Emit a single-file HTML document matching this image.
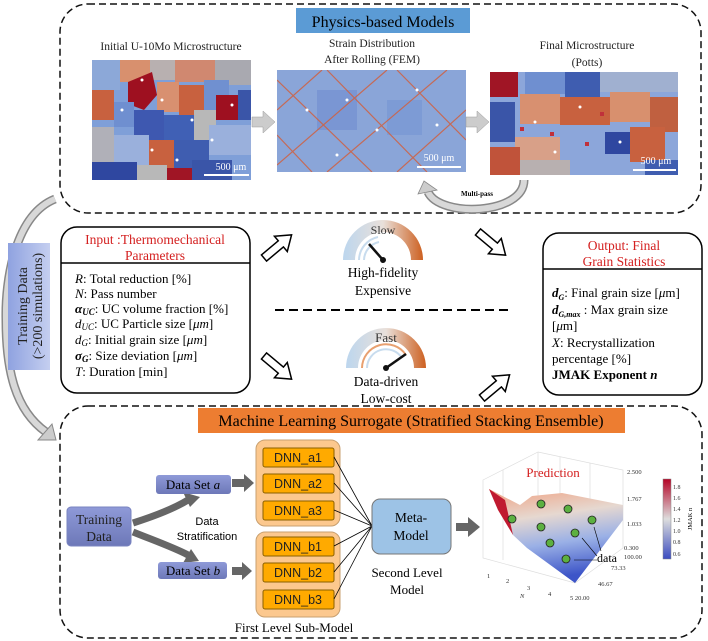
<!DOCTYPE html>
<html><head><meta charset="utf-8"><style>
body{margin:0;background:#fff}
svg{display:block;font-family:"Liberation Serif",serif}
.s{font-family:"Liberation Sans",sans-serif}
</style></head><body>
<svg width="708" height="641" viewBox="0 0 708 641" xmlns="http://www.w3.org/2000/svg">
<defs>
<linearGradient id="td" x1="0" y1="0" x2="1" y2="0"><stop offset="0" stop-color="#8fa2e0"/><stop offset="1" stop-color="#c5cff0"/></linearGradient>
<linearGradient id="g1" x1="0" x2="1"><stop offset="0" stop-color="#bcd6ee"/><stop offset="0.5" stop-color="#e9e0da"/><stop offset="1" stop-color="#cd6020"/></linearGradient>
<linearGradient id="cb" x1="0" y1="0" x2="0" y2="1"><stop offset="0" stop-color="#b40426"/><stop offset="0.5" stop-color="#dddddd"/><stop offset="1" stop-color="#3b4cc0"/></linearGradient>
<linearGradient id="surf" x1="0" y1="0" x2="0.2" y2="1"><stop offset="0" stop-color="#f0a080"/><stop offset="0.35" stop-color="#e6d8d0"/><stop offset="0.65" stop-color="#9ab0e6"/><stop offset="1" stop-color="#3d55c8"/></linearGradient>
<linearGradient id="dsb" x1="0" y1="0" x2="0" y2="1"><stop offset="0" stop-color="#8f9ad8"/><stop offset="1" stop-color="#6d78b8"/></linearGradient>
</defs>

<rect x="60" y="4" width="641" height="209" rx="28" fill="none" stroke="#111" stroke-width="1.5" stroke-dasharray="7,4"/>
<rect x="296" y="8" width="174" height="25" fill="#5b9bd5"/>
<text x="383" y="27" font-size="16" text-anchor="middle">Physics-based Models</text>
<text x="171" y="50" font-size="11.5" text-anchor="middle" fill="#222">Initial U-10Mo Microstructure</text>
<text x="372" y="47" font-size="11.5" text-anchor="middle" fill="#222">Strain Distribution</text>
<text x="372" y="63" font-size="11.5" text-anchor="middle" fill="#222">After Rolling (FEM)</text>
<text x="587" y="49" font-size="11.5" text-anchor="middle" fill="#222">Final Microstructure</text>
<text x="587" y="66" font-size="11.5" text-anchor="middle" fill="#222">(Potts)</text>

<svg x="92" y="60" width="159" height="120" viewBox="0 0 159 120">
<rect width="159" height="120" fill="#7f9fd8"/>
<rect x="0" y="0" width="28" height="30" fill="#8ca8d8"/>
<rect x="28" y="0" width="30" height="22" fill="#d8906e"/>
<rect x="58" y="0" width="25" height="20" fill="#b8b0b0"/>
<rect x="83" y="0" width="40" height="22" fill="#d08870"/>
<rect x="123" y="0" width="36" height="25" fill="#a9a9b0"/>
<polygon points="36,22 60,12 65,35 52,50 36,44" fill="#9e1020"/>
<rect x="65" y="22" width="22" height="30" fill="#d89070"/>
<rect x="87" y="25" width="25" height="30" fill="#c8613f"/>
<rect x="112" y="20" width="25" height="30" fill="#7090d0"/>
<rect x="0" y="30" width="22" height="30" fill="#c8613f"/>
<rect x="22" y="42" width="20" height="25" fill="#6f8fd0"/>
<rect x="42" y="50" width="30" height="30" fill="#3e58b0"/>
<rect x="72" y="55" width="30" height="25" fill="#4060b5"/>
<rect x="102" y="50" width="22" height="30" fill="#b8b8b8"/>
<rect x="124" y="35" width="22" height="25" fill="#9e1020"/>
<rect x="146" y="30" width="13" height="30" fill="#3a55a8"/>
<rect x="0" y="67" width="22" height="35" fill="#b0b0b8"/>
<rect x="22" y="75" width="35" height="30" fill="#9ab0dc"/>
<rect x="57" y="80" width="25" height="30" fill="#c8613f"/>
<rect x="82" y="80" width="35" height="30" fill="#3f5db0"/>
<rect x="117" y="65" width="42" height="30" fill="#9ab0dc"/>
<rect x="0" y="102" width="45" height="18" fill="#2f47a0"/>
<rect x="45" y="105" width="30" height="15" fill="#b8b8b8"/>
<rect x="75" y="108" width="25" height="12" fill="#a01525"/>
<rect x="100" y="100" width="40" height="20" fill="#3a55a8"/>
<g fill="#fff"><circle cx="50" cy="20" r="1.5"/><circle cx="70" cy="40" r="1.5"/><circle cx="30" cy="50" r="1.5"/><circle cx="100" cy="60" r="1.5"/><circle cx="120" cy="80" r="1.5"/><circle cx="60" cy="90" r="1.5"/><circle cx="85" cy="100" r="1.5"/><circle cx="140" cy="45" r="1.5"/></g>
<text x="139" y="110" font-size="10" fill="#fff" text-anchor="middle">500 μm</text>
<line x1="112" y1="115" x2="157" y2="115" stroke="#fff" stroke-width="2"/>
</svg>
<polygon points="252,117 263,117 263,111 275,122 263,133 263,127 252,127" fill="#ccc" stroke="#999" stroke-width="0.5"/>

<svg x="277" y="70" width="189" height="102" viewBox="0 0 189 102">
<rect width="189" height="102" fill="#8aa5d8"/>
<rect x="40" y="20" width="40" height="40" fill="#6f8cd0" opacity="0.6"/>
<rect x="110" y="30" width="35" height="35" fill="#7594d4" opacity="0.6"/>
<g stroke="#d06040" stroke-width="1.2" opacity="0.85">
<line x1="0" y1="40" x2="45" y2="0"/><line x1="0" y1="95" x2="110" y2="0"/>
<line x1="50" y1="102" x2="170" y2="0"/><line x1="120" y1="102" x2="189" y2="40"/>
<line x1="0" y1="10" x2="95" y2="102"/><line x1="50" y1="0" x2="150" y2="102"/>
<line x1="120" y1="0" x2="189" y2="70"/><line x1="0" y1="65" x2="35" y2="102"/>
</g>
<g fill="#fff"><circle cx="30" cy="40" r="1.5"/><circle cx="70" cy="30" r="1.5"/><circle cx="100" cy="60" r="1.5"/><circle cx="140" cy="20" r="1.5"/><circle cx="160" cy="55" r="1.5"/><circle cx="60" cy="85" r="1.5"/></g>
<text x="162" y="91" font-size="10" fill="#fff" text-anchor="middle">500 μm</text>
<line x1="140" y1="97" x2="184" y2="97" stroke="#fff" stroke-width="2"/>
</svg>
<polygon points="466,117 477,117 477,111 489,122 477,133 477,127 466,127" fill="#ccc" stroke="#999" stroke-width="0.5"/>

<svg x="490" y="72" width="188" height="103" viewBox="0 0 188 103">
<rect width="188" height="103" fill="#8ca6da"/>
<rect x="0" y="0" width="28" height="25" fill="#a01525"/>
<rect x="35" y="0" width="40" height="22" fill="#6f8fd0"/>
<rect x="75" y="0" width="35" height="25" fill="#3f5db0"/>
<rect x="110" y="0" width="78" height="20" fill="#a0b0d0"/>
<rect x="30" y="22" width="40" height="30" fill="#d89070"/>
<rect x="70" y="25" width="50" height="28" fill="#c8613f"/>
<rect x="120" y="20" width="40" height="30" fill="#d8906e"/>
<rect x="160" y="25" width="28" height="35" fill="#c06040"/>
<rect x="0" y="30" width="25" height="40" fill="#3a55a8"/>
<rect x="25" y="65" width="45" height="25" fill="#d8a088"/>
<rect x="115" y="60" width="25" height="22" fill="#2f47a0"/>
<rect x="140" y="55" width="35" height="35" fill="#c8613f"/>
<rect x="0" y="75" width="30" height="28" fill="#c0533a"/>
<rect x="30" y="88" width="50" height="15" fill="#b8b0b0"/>
<rect x="155" y="88" width="33" height="15" fill="#3f5db0"/>
<g fill="#c0303a"><rect x="30" y="55" width="4" height="4"/><rect x="60" y="60" width="4" height="4"/><rect x="95" y="70" width="4" height="4"/><rect x="110" y="40" width="4" height="4"/></g>
<g fill="#fff"><circle cx="45" cy="50" r="1.5"/><circle cx="90" cy="35" r="1.5"/><circle cx="130" cy="70" r="1.5"/><circle cx="65" cy="80" r="1.5"/></g>
<text x="166" y="92" font-size="10" fill="#fff" text-anchor="middle">500 μm</text>
<line x1="143" y1="98" x2="186" y2="98" stroke="#fff" stroke-width="2"/>
</svg>
<path d="M524,180 C524,215 440,218 428,192" fill="none" stroke="#888" stroke-width="9"/>
<path d="M524,180 C524,215 440,218 428,192" fill="none" stroke="#d8d8d8" stroke-width="6"/>
<polygon points="418,194 424,181 437,190" fill="#ccc" stroke="#888" stroke-width="0.8"/>
<text x="477" y="196" font-size="7" font-weight="bold" text-anchor="middle">Multi-pass</text>

<path d="M55,199 C15,215 5,280 6,320 C6,370 15,410 46,432" fill="none" stroke="#888" stroke-width="9"/>
<path d="M55,199 C15,215 5,280 6,320 C6,370 15,410 46,432" fill="none" stroke="#d8d8d8" stroke-width="6"/>
<polygon points="38,440 56,440 52,424" fill="#ccc" stroke="#888"/>
<rect x="8" y="243" width="42" height="127" fill="url(#td)"/>
<text transform="translate(27,306) rotate(-90)" font-size="14" text-anchor="middle" fill="#222">Training Data</text>
<text transform="translate(42,306) rotate(-90)" font-size="14" text-anchor="middle" fill="#222">(&gt;200 simulations)</text>

<rect x="61" y="227" width="189" height="166" rx="16" fill="#fff" stroke="#000" stroke-width="1.5"/>
<line x1="61" y1="263" x2="250" y2="263" stroke="#000" stroke-width="1.5"/>
<text x="155" y="244" font-size="13.5" text-anchor="middle" fill="#d42020">Input :Thermomechanical</text>
<text x="155" y="260" font-size="13.5" text-anchor="middle" fill="#d42020">Parameters</text>
<g font-size="13">
<text x="75" y="283"><tspan font-style="italic">R</tspan>: Total reduction [%]</text>
<text x="75" y="298"><tspan font-style="italic">N</tspan>: Pass number</text>
<text x="75" y="313"><tspan font-weight="bold" font-style="italic">α<tspan font-size="9" dy="2">UC</tspan></tspan><tspan dy="-2">: UC volume fraction [%]</tspan></text>
<text x="75" y="328"><tspan font-style="italic">d<tspan font-size="9" dy="2">UC</tspan></tspan><tspan dy="-2">: UC Particle size [</tspan><tspan font-style="italic">μm</tspan>]</text>
<text x="75" y="344"><tspan font-style="italic">d<tspan font-size="9" dy="2">G</tspan></tspan><tspan dy="-2">: Initial grain size [</tspan><tspan font-style="italic">μm</tspan>]</text>
<text x="75" y="360"><tspan font-weight="bold" font-style="italic">σ<tspan font-size="9" dy="2">G</tspan></tspan><tspan dy="-2">: Size deviation [</tspan><tspan font-style="italic">μm</tspan>]</text>
<text x="75" y="376"><tspan font-style="italic">T</tspan>: Duration [min]</text>
</g>

<rect x="543" y="233" width="159" height="162" rx="16" fill="#fff" stroke="#000" stroke-width="1.5"/>
<line x1="543" y1="269" x2="702" y2="269" stroke="#000" stroke-width="1.5"/>
<text x="624" y="250" font-size="13.5" text-anchor="middle" fill="#d42020">Output: Final</text>
<text x="624" y="266" font-size="13.5" text-anchor="middle" fill="#d42020">Grain Statistics</text>
<g font-size="13">
<text x="552" y="297"><tspan font-weight="bold" font-style="italic">d<tspan font-size="8" dy="3">G</tspan></tspan><tspan dy="-3">: Final grain size [</tspan><tspan font-style="italic">μ</tspan>m]</text>
<text x="552" y="314"><tspan font-weight="bold" font-style="italic">d<tspan font-size="8" dy="3">G,max</tspan></tspan><tspan dy="-3"> : Max grain size</tspan></text>
<text x="552" y="330">[<tspan font-style="italic">μ</tspan>m]</text>
<text x="552" y="347"><tspan font-style="italic">X</tspan>: Recrystallization</text>
<text x="552" y="363">percentage  [%]</text>
<text x="552" y="379" font-weight="bold">JMAK Exponent <tspan font-style="italic">n</tspan></text>
</g>

<g fill="#fff" stroke="#000" stroke-width="1.5">
<polygon points="0,-4 22,-4 22,-10 36,0 22,10 22,4 0,4" transform="translate(264,258) rotate(-40)"/>
<polygon points="0,-4 22,-4 22,-10 36,0 22,10 22,4 0,4" transform="translate(478,232) rotate(40)"/>
<polygon points="0,-4 22,-4 22,-10 36,0 22,10 22,4 0,4" transform="translate(264,356) rotate(40)"/>
<polygon points="0,-4 22,-4 22,-10 36,0 22,10 22,4 0,4" transform="translate(482,398) rotate(-40)"/>
</g>

<g transform="translate(383,260)">
<path d="M-40,0 A40,40 0 0 1 40,0 L28,0 A28,28 0 0 0 -28,0 Z" fill="url(#g1)"/>
<path d="M-24,0 A24,24 0 0 1 -5,-23" fill="none" stroke="#c8dcee" stroke-width="2"/>
<path d="M-19,0 A19,19 0 0 1 -4,-18" fill="none" stroke="#c8dcee" stroke-width="2"/>
<line x1="0" y1="0" x2="-14" y2="-16" stroke="#111" stroke-width="2.5"/>
<circle r="3" fill="#111"/>
<text y="-26" font-size="12" text-anchor="middle" fill="#333">Slow</text>
</g>
<text x="383" y="277" font-size="13.5" text-anchor="middle">High-fidelity</text>
<text x="383" y="295" font-size="13.5" text-anchor="middle">Expensive</text>
<line x1="275" y1="310" x2="510" y2="310" stroke="#000" stroke-width="2" stroke-dasharray="9,5"/>
<g transform="translate(386,368)">
<path d="M-40,0 A40,40 0 0 1 40,0 L28,0 A28,28 0 0 0 -28,0 Z" fill="url(#g1)"/>
<path d="M-24,0 A24,24 0 0 1 20,-13" fill="none" stroke="#e8a070" stroke-width="2"/>
<path d="M-19,0 A19,19 0 0 1 16,-10" fill="none" stroke="#c8dcee" stroke-width="2"/>
<line x1="0" y1="0" x2="20" y2="-14" stroke="#111" stroke-width="2.5"/>
<circle r="3" fill="#111"/>
<text y="-26" font-size="13" text-anchor="middle" fill="#333">Fast</text>
</g>
<text x="386" y="386" font-size="13.5" text-anchor="middle">Data-driven</text>
<text x="386" y="403" font-size="13.5" text-anchor="middle">Low-cost</text>

<rect x="60" y="406" width="642" height="232" rx="28" fill="none" stroke="#111" stroke-width="1.5" stroke-dasharray="7,4"/>
<rect x="198" y="408" width="427" height="25" fill="#ed7d31"/>
<text x="411" y="426" font-size="16" text-anchor="middle">Machine Learning Surrogate (Stratified Stacking Ensemble)</text>

<rect x="67" y="507" width="64" height="39" rx="4" fill="url(#dsb)" stroke="#7a84c0"/>
<text x="99" y="524" font-size="13.5" text-anchor="middle" fill="#222">Training</text>
<text x="99" y="541" font-size="13.5" text-anchor="middle" fill="#222">Data</text>
<path d="M133,523 C158,515 175,508 188,500" fill="none" stroke="#666" stroke-width="7"/>
<polygon points="183,492 200,497 190,507" fill="#666"/>
<path d="M133,532 C158,542 175,548 188,555" fill="none" stroke="#666" stroke-width="7"/>
<polygon points="183,563 199,561 191,549" fill="#666"/>
<text x="207" y="525" font-size="11" text-anchor="middle" class="s">Data</text>
<text x="207" y="540" font-size="11" text-anchor="middle" class="s">Stratification</text>
<rect x="156" y="475" width="75" height="19" rx="3" fill="url(#dsb)"/>
<text x="193" y="489" font-size="13" text-anchor="middle">Data Set <tspan font-style="italic">a</tspan></text>
<rect x="158" y="562" width="69" height="17" rx="3" fill="url(#dsb)"/>
<text x="193" y="575" font-size="13" text-anchor="middle">Data Set <tspan font-style="italic">b</tspan></text>
<polygon points="232,479 244,479 244,474 254,483 244,492 244,487 232,487" fill="#666"/>
<polygon points="232,567 242,567 242,562 252,571 242,580 242,575 232,575" fill="#666"/>

<rect x="256" y="440" width="84" height="86" rx="9" fill="#fcc88e" stroke="#c8a070"/>
<rect x="256" y="532" width="84" height="85" rx="9" fill="#fcc88e" stroke="#c8a070"/>
<g fill="#ffaa00" stroke="#8a6000">
<rect x="263" y="448" width="71" height="19" rx="2"/><rect x="263" y="474" width="71" height="19" rx="2"/><rect x="263" y="501" width="71" height="19" rx="2"/>
<rect x="263" y="537" width="71" height="19" rx="2"/><rect x="263" y="563" width="71" height="19" rx="2"/><rect x="263" y="590" width="71" height="19" rx="2"/>
</g>
<g font-family="Liberation Sans,sans-serif" font-size="12.5" text-anchor="middle" fill="#222">
<text x="298" y="462">DNN_a1</text><text x="298" y="488">DNN_a2</text><text x="298" y="515">DNN_a3</text>
<text x="298" y="551">DNN_b1</text><text x="298" y="577">DNN_b2</text><text x="298" y="604">DNN_b3</text>
</g>
<g stroke="#000" stroke-width="0.8">
<line x1="334" y1="457" x2="372" y2="526"/><line x1="334" y1="483" x2="372" y2="526"/><line x1="334" y1="510" x2="372" y2="526"/>
<line x1="334" y1="546" x2="372" y2="526"/><line x1="334" y1="572" x2="372" y2="526"/><line x1="334" y1="599" x2="372" y2="526"/>
</g>
<rect x="372" y="499" width="79" height="55" rx="8" fill="#9dc3e6" stroke="#777"/>
<text x="411" y="522" font-size="13.5" text-anchor="middle">Meta-</text>
<text x="411" y="540" font-size="13.5" text-anchor="middle">Model</text>
<text x="407" y="577" font-size="13" text-anchor="middle">Second Level</text>
<text x="407" y="594" font-size="13" text-anchor="middle">Model</text>
<text x="294" y="632" font-size="13" text-anchor="middle">First Level Sub-Model</text>
<polygon points="456,523 468,523 468,517 480,527 468,537 468,531 456,531" fill="#666"/>

<g>
<g stroke="#ddd" stroke-width="0.7" fill="none">
<polygon points="483,480 538,452 623,470 623,548 575,583 483,558"/>
<line x1="538" y1="452" x2="538" y2="530"/><line x1="503" y1="470" x2="503" y2="560"/><line x1="560" y1="457" x2="560" y2="535"/><line x1="590" y1="463" x2="590" y2="540"/>
</g>
<polygon points="489,489 520,505 532,496 562,493 623,505 623,520 575,583 527,548 513,535" fill="url(#surf)"/>
<polygon points="489,489 505,500 513,535 498,510" fill="#c01a30"/>
<text x="553" y="477" font-size="13" fill="#d42020" text-anchor="middle">Prediction</text>
<g fill="#5cb040" stroke="#222" stroke-width="0.8">
<circle cx="512" cy="519" r="4"/><circle cx="541" cy="504" r="4"/><circle cx="568" cy="509" r="4"/>
<circle cx="592" cy="520" r="4"/><circle cx="541" cy="527" r="4"/><circle cx="575" cy="533" r="4"/>
<circle cx="550" cy="543" r="4"/><circle cx="566" cy="559" r="4"/>
</g>
<line x1="597" y1="560" x2="574" y2="560" stroke="#000" stroke-width="0.6"/>
<line x1="597" y1="556" x2="582" y2="538" stroke="#000" stroke-width="0.6"/>
<line x1="601" y1="551" x2="594" y2="527" stroke="#000" stroke-width="0.6"/>
<text x="597" y="562" font-size="12">data</text>
<g font-size="6.5" fill="#333">
<text x="627" y="474">2.500</text><text x="627" y="501">1.767</text><text x="627" y="526">1.033</text><text x="624" y="550">0.300</text>
<text x="624" y="559">100.00</text><text x="611" y="570">73.33</text><text x="598" y="586">46.67</text><text x="570" y="600">5 20.00</text>
<text x="487" y="578">1</text><text x="506" y="583">2</text><text x="527" y="590">3</text><text x="548" y="596">4</text>
<text x="520" y="598" font-style="italic">N</text>
</g>
<rect x="663" y="479" width="8" height="80" fill="url(#cb)" stroke="#888" stroke-width="0.5"/>
<g font-size="6" fill="#333">
<text x="673" y="489">1.8</text><text x="673" y="500">1.6</text><text x="673" y="511">1.4</text><text x="673" y="522">1.2</text><text x="673" y="533">1.0</text><text x="673" y="544">0.8</text><text x="673" y="556">0.6</text>
</g>
<text transform="translate(692,519) rotate(-90)" font-size="6.5" text-anchor="middle">JMAK n</text>
</g>
</svg>
</body></html>
